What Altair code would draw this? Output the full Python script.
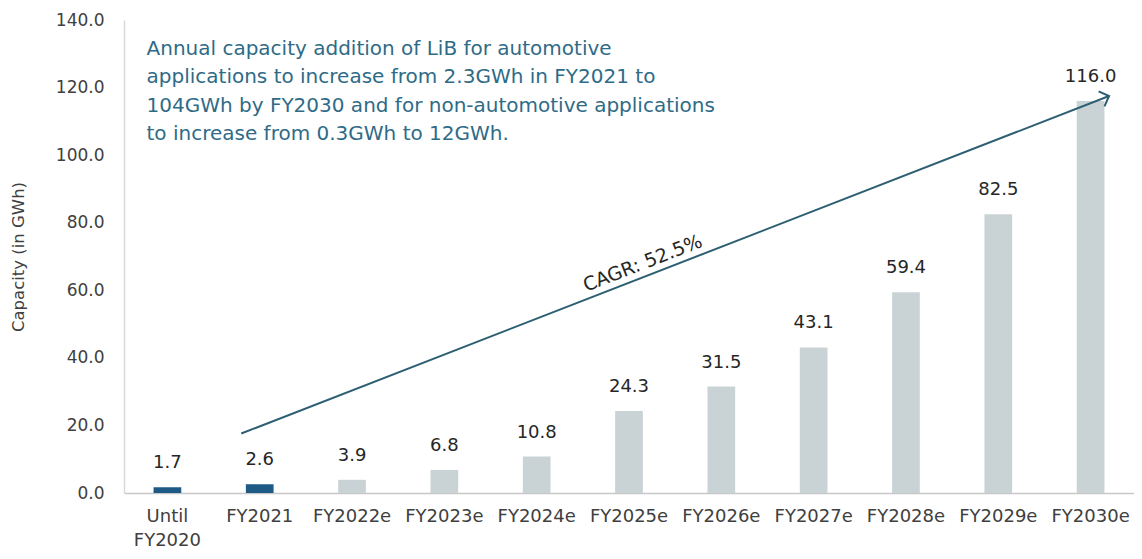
import altair as alt
import pandas as pd
import math

categories = ["Until FY2020", "FY2021", "FY2022e", "FY2023e", "FY2024e", "FY2025e",
              "FY2026e", "FY2027e", "FY2028e", "FY2029e", "FY2030e"]
values = [1.7, 2.6, 3.9, 6.8, 10.8, 24.3, 31.5, 43.1, 59.4, 82.5, 116.0]
kind = ["Actual", "Actual"] + ["Estimate"] * 9

y_ticks = [0, 20, 40, 60, 80, 100, 120, 140]

annotation_lines = [
    "Annual capacity addition of LiB for automotive",
    "applications to increase from 2.3GWh in FY2021 to",
    "104GWh by FY2030 and for non-automotive applications",
    "to increase from 0.3GWh to 12GWh.",
]
cagr_label = "CAGR: 52.5%"

# arrow in category units (0 = first category centre) and capacity units
arrow_x = [0.8, 10.2]
arrow_y = [17.6, 117.5]

FONT = "DejaVu Sans"
W, H = 1010, 473
P_IN, P_OUT = 0.7, 0.32
half = P_OUT + (1 - P_IN) / 2

df = pd.DataFrame({"cat": categories, "val": values, "kind": kind})
df["lab"] = df["val"].map(lambda v: f"{v:.1f}")

xband = alt.X("cat:N", sort=categories, title=None,
              scale=alt.Scale(paddingInner=P_IN, paddingOuter=P_OUT),
              axis=alt.Axis(labelExpr="split(datum.label, ' ')", labelAngle=0,
                            labelFont=FONT, labelFontSize=18, labelColor="#404040",
                            labelPadding=14, labelLineHeight=24, ticks=False,
                            domainColor="#c8c8c8", domainWidth=1.5))
yq = alt.Y("val:Q", title="Capacity (in GWh)",
           scale=alt.Scale(domain=[0, 140]),
           axis=alt.Axis(values=y_ticks, format=".1f", grid=False, ticks=False,
                         labelFont=FONT, labelFontSize=17, labelColor="#404040",
                         labelPadding=20, titleFont=FONT, titleFontSize=16.5,
                         titleFontWeight="normal", titleColor="#404040",
                         titlePadding=29, domainColor="#d9d9d9", domainWidth=1.5))

bars = alt.Chart(df).mark_bar().encode(
    x=xband, y=yq,
    color=alt.Color("kind:N", legend=None,
                    scale=alt.Scale(domain=["Actual", "Estimate"],
                                    range=["#1f5a87", "#c9d3d6"])),
)
labels = alt.Chart(df).mark_text(font=FONT, fontSize=18, color="#262626",
                                 baseline="middle", dy=-24).encode(
    x=alt.X("cat:N", sort=categories), y="val:Q", text="lab:N")

xq = alt.X("u:Q", axis=None, scale=alt.Scale(domain=[-half, 10 + half], nice=False, zero=False))
yq2 = alt.Y("v:Q", axis=None, scale=alt.Scale(domain=[0, 140]))

arrow_df = pd.DataFrame({"u": arrow_x, "v": arrow_y})
line = alt.Chart(arrow_df).mark_line(color="#2d5f73", strokeWidth=2).encode(x=xq, y=yq2)
ang = math.degrees(math.atan2((arrow_y[1] - arrow_y[0]) * H / 140,
                              (arrow_x[1] - arrow_x[0]) * W / (10 + 2 * half)))
head = alt.Chart(arrow_df.iloc[[1]]).mark_point(
    shape="M-1,-1L0,0L-1,1", filled=False, color="#2d5f73", strokeWidth=2,
    size=260, angle=360 - ang, opacity=1).encode(x=xq, y=yq2)

mid_u = 5.2
mid_v = arrow_y[0] + (mid_u - arrow_x[0]) / (arrow_x[1] - arrow_x[0]) * (arrow_y[1] - arrow_y[0])
cagr = alt.Chart(pd.DataFrame({"u": [mid_u], "v": [mid_v], "t": [cagr_label]})).mark_text(
    font=FONT, fontSize=19, color="#262626", angle=360 - ang, baseline="bottom",
    align="center", dy=-3).encode(x=xq, y=yq2, text="t:N")

ann = alt.Chart(pd.DataFrame({"u": [-0.226], "v": [134.5],
                              "t": ["\n".join(annotation_lines)]})).mark_text(
    font=FONT, fontSize=20, color="#2f6b87", align="left", baseline="top",
    lineBreak="\n", lineHeight=28.5).encode(x=xq, y=yq2, text="t:N")

overlay = alt.layer(line, head, cagr, ann)
chart = alt.layer(bars + labels, overlay).resolve_scale(x="independent", y="independent").properties(
    width=W, height=H,
    autosize=alt.AutoSizeParams(type="none"),
    padding={"left": 116, "top": 12, "right": 0, "bottom": 58},
).configure_view(stroke=None)

chart.save("out.html", embed_options={"renderer": "svg", "actions": False})
